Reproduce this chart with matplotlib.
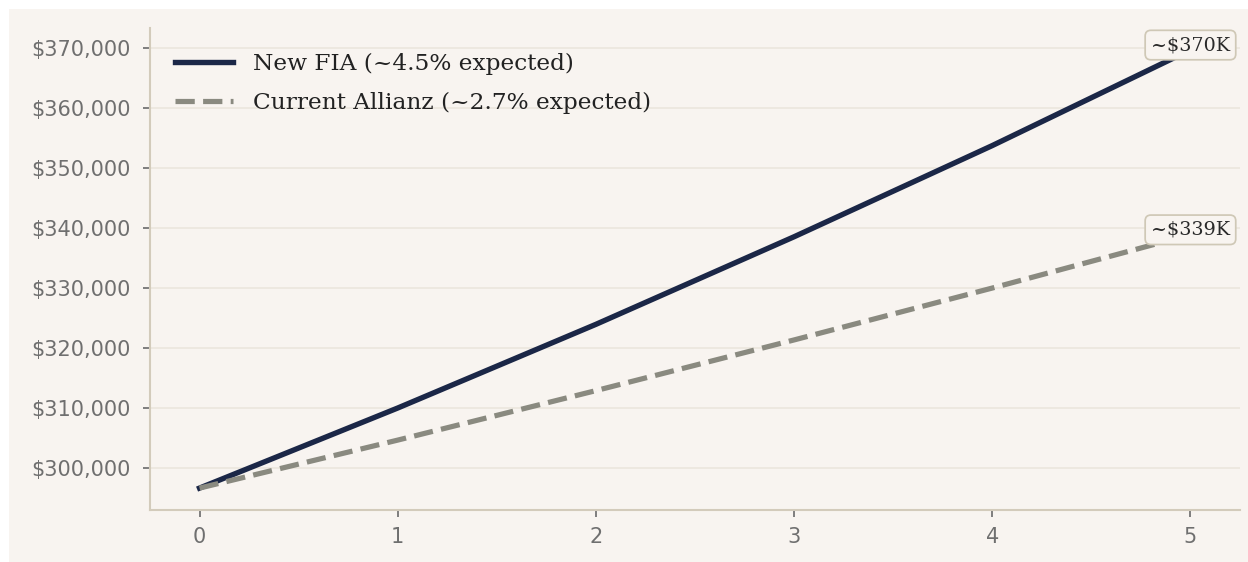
"""Projected annuity value: new FIA vs current Allianz over 5 years"""

import matplotlib
matplotlib.use("Agg")
import matplotlib.pyplot as plt
from matplotlib.patches import Rectangle
from matplotlib.ticker import FuncFormatter

# Data
years = [0, 1, 2, 3, 4, 5]
fia_values = [296700, 310050, 324000, 338600, 353800, 369750]
allianz_values = [296700, 304700, 312950, 321400, 330050, 338950]
labels = ["New FIA (~4.5% expected)", "Current Allianz (~2.7% expected)"]
end_labels = ["~$370K", "~$339K"]

bg = "#f8f4f0"
navy = "#1b2747"
grey = "#8a8a80"
spine = "#d3cbbb"
tick_col = "#6f6f6f"

W, H, DPI = 1248, 562, 125
fig = plt.figure(figsize=(W / DPI, H / DPI), dpi=DPI, facecolor="white")
# beige panel with a thin white border on top / left
fig.patches.append(Rectangle((9 / W, 0), 1, 1 - 9 / H, transform=fig.transFigure,
                             facecolor=bg, edgecolor="none", zorder=-10))
ax = fig.add_axes([150 / W, 1 - 510 / H, 1090 / W, 482 / H])
ax.set_facecolor(bg)

ax.plot(years, fia_values, color=navy, lw=3.1, label=labels[0])
ax.plot(years, allianz_values, color=grey, lw=3.0, ls="--", label=labels[1])

ax.yaxis.set_major_formatter(FuncFormatter(lambda v, p: f"${v:,.0f}"))
ax.set_xticks(years)
ax.grid(axis="y", color="#ebe5dc", lw=0.9)
ax.set_axisbelow(True)

for s in ["top", "right"]:
    ax.spines[s].set_visible(False)
for s in ["left", "bottom"]:
    ax.spines[s].set_color(spine)
    ax.spines[s].set_linewidth(1.2)
ax.tick_params(colors=tick_col, labelsize=12, length=4, width=1)
ax.tick_params(axis="x", pad=6)
ax.tick_params(axis="y", pad=7)

for vals, txt in zip([fia_values, allianz_values], end_labels):
    ax.annotate(txt, (years[-1], vals[-1]), xytext=(0, 2.8), textcoords="offset points",
                ha="center", va="center", fontsize=11, family="DejaVu Serif", color="#2a2a2a",
                bbox=dict(boxstyle="round,pad=0.3", fc=bg, ec="#cfc8b6", lw=1))

ax.legend(loc="upper left", frameon=False, prop={"family": "DejaVu Serif", "size": 13.4},
          labelcolor="#222222", handlelength=2.5, handletextpad=0.85, labelspacing=0.72,
          borderaxespad=0.67)

fig.savefig("out.png", dpi=DPI, facecolor=fig.get_facecolor())
